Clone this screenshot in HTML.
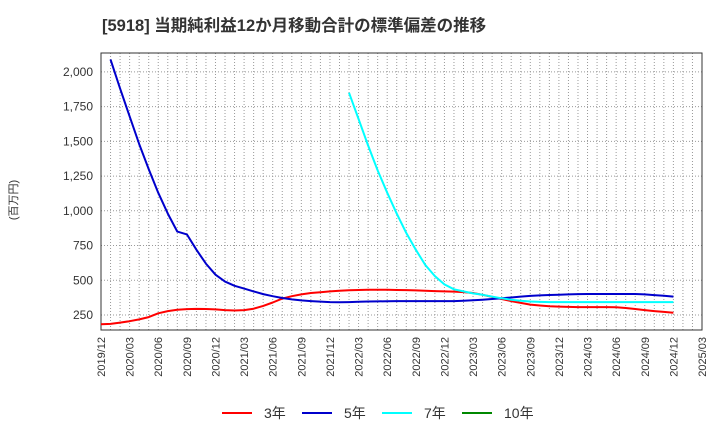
<!DOCTYPE html>
<html><head><meta charset="utf-8"><style>
body{margin:0;background:#fff;font-family:"Liberation Sans","Noto Sans CJK JP",sans-serif}
</style></head><body>
<svg id="c" width="720" height="440" font-family="Liberation Sans, Noto Sans CJK JP, sans-serif">
<text x="102" y="31" font-size="16.5" font-weight="bold" fill="#333">[5918]  当期純利益12か月移動合計の標準偏差の推移</text>
<text transform="translate(17,200) rotate(-90)" font-size="11" fill="#333" text-anchor="middle">(百万円)</text>
<g id="grid"></g><g id="axes"></g><g id="series"></g><g id="legend"></g>
</svg>
<script>
const xLabels=["2019/12","2020/03","2020/06","2020/09","2020/12","2021/03","2021/06","2021/09","2021/12","2022/03","2022/06","2022/09","2022/12","2023/03","2023/06","2023/09","2023/12","2024/03","2024/06","2024/09","2024/12","2025/03"];
const yTicks=[250,500,750,1000,1250,1500,1750,2000];
const s3=[183,186,195,205,218,235,262,278,287,292,294,293,290,285,282,285,295,315,340,368,385,398,408,414,420,425,428,430,431,431,431,430,429,427,425,422,420,418,415,408,395,380,365,350,337,325,318,313,310,308,307,307,307,307,305,300,293,285,278,272,266];
const s5=[null,2090,1880,1680,1480,1300,1130,980,850,830,720,620,540,490,460,440,420,400,385,372,362,355,350,346,343,342,343,345,347,348,349,350,350,350,350,350,350,350,352,356,360,365,370,376,382,387,391,394,396,398,400,401,401,401,401,401,401,398,393,388,382];
const s7=[null,null,null,null,null,null,null,null,null,null,null,null,null,null,null,null,null,null,null,null,null,null,null,null,null,null,1850,1660,1470,1290,1130,980,840,720,610,530,470,435,420,405,395,382,370,360,352,347,344,343,343,343,343,343,343,343,343,343,343,343,343,343,343];
const s10=[];
const L=101,R=702,T=53,B=330;
const ns="http://www.w3.org/2000/svg";
const X=i=>L+i*(R-L)/63;
const Y=v=>349.7-v*0.1389;
function mk(tag,attrs,parent){const e=document.createElementNS(ns,tag);for(const k in attrs)e.setAttribute(k,attrs[k]);document.getElementById(parent).appendChild(e);return e;}
for(let m=1;m<63;m++){const g=mk('line',{x1:X(m),x2:X(m),y1:T,y2:B,stroke:'#999','stroke-dasharray':'1,2','stroke-width':1},'grid');}
yTicks.forEach(v=>{const g=mk('line',{x1:L,x2:R,y1:Y(v),y2:Y(v),stroke:'#999','stroke-dasharray':'1,2'},'grid');
const t=mk('text',{x:L-8,y:Y(v)+4,'font-size':12,fill:'#333','text-anchor':'end'},'axes');t.textContent=v.toLocaleString('en-US');});
const fr=mk('rect',{x:L,y:T,width:R-L,height:B-T,fill:'none',stroke:'#333'},'axes');
xLabels.forEach((s,i)=>{const x=X(i*3);const t=mk('text',{transform:`translate(${x+4},${B+7}) rotate(-90)`,'font-size':11,fill:'#333','text-anchor':'end'},'axes');t.textContent=s;});
function line(arr,col,name){let d='';let pen=false;arr.forEach((v,i)=>{if(v==null){pen=false;return;}d+=(pen?'L':'M')+X(i).toFixed(1)+','+Y(v).toFixed(1);pen=true;});if(!d)return;const p=mk('path',{d:d,fill:'none',stroke:col,'stroke-width':2,'stroke-linejoin':'round'},'series');}
line(s3,'#f00','series-3yr');line(s5,'#00c','series-5yr');line(s7,'#0ff','series-7yr');line(s10,'#080','series-10yr');
[["3年",'#f00',222],["5年",'#00c',302],["7年",'#0ff',382],["10年",'#080',462]].forEach(([n,c,x])=>{const l=mk('line',{x1:x,x2:x+30,y1:413,y2:413,stroke:c,'stroke-width':2},'legend');const t=mk('text',{x:x+42,y:418,'font-size':14,fill:'#333'},'legend');t.textContent=n;});
</script>
</body></html>
